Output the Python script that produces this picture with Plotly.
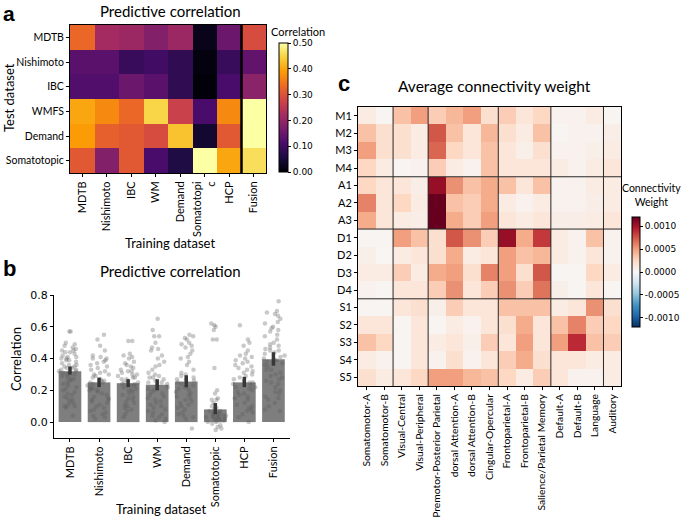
import plotly.graph_objects as go

W, H = 683, 517

# ---------------- data: panel a ----------------
train_labels_a = ["MDTB", "Nishimoto", "IBC", "WM", "Demand", "Somatotopi<br>c", "HCP", "Fusion"]
test_labels_a = ["MDTB", "Nishimoto", "IBC", "WMFS", "Demand", "Somatotopic"]
pred_corr = [
    [0.33, 0.22, 0.21, 0.18, 0.21, 0.02, 0.15, 0.29],
    [0.13, 0.13, 0.09, 0.10, 0.08, 0.01, 0.09, 0.14],
    [0.12, 0.12, 0.15, 0.13, 0.08, 0.005, 0.11, 0.19],
    [0.40, 0.37, 0.33, 0.45, 0.27, 0.11, 0.37, 0.52],
    [0.39, 0.32, 0.31, 0.29, 0.43, 0.04, 0.31, 0.52],
    [0.31, 0.18, 0.31, 0.11, 0.06, 0.52, 0.40, 0.46],
]
corr_ticks = [0.0, 0.1, 0.2, 0.3, 0.4, 0.5]

# ---------------- data: panel b ----------------
train_labels_b = ["MDTB", "Nishimoto", "IBC", "WM", "Demand", "Somatotopic", "HCP", "Fusion"]
bar_means = [0.32, 0.25, 0.245, 0.235, 0.255, 0.08, 0.25, 0.395]
ci_low = [0.30, 0.22, 0.22, 0.20, 0.22, 0.05, 0.22, 0.355]
ci_high = [0.35, 0.28, 0.27, 0.27, 0.295, 0.12, 0.285, 0.44]
pts_mdtb = [0.57, 0.57, 0.50, 0.49, 0.48, 0.47, 0.46, 0.45, 0.45, 0.44, 0.43, 0.42, 0.41, 0.40, 0.40, 0.39,
            0.39, 0.38, 0.37, 0.36, 0.35, 0.35, 0.34, 0.34, 0.33, 0.33, 0.32, 0.32, 0.31, 0.31, 0.30, 0.30,
            0.29, 0.28, 0.27, 0.27, 0.26, 0.25, 0.24, 0.23, 0.22, 0.21, 0.20, 0.19, 0.18, 0.17, 0.16, 0.15,
            0.14, 0.13, 0.12, 0.11, 0.10, 0.10, 0.09, 0.04, 0.36, 0.41, 0.44, 0.30]
pts_nishimoto = [0.55, 0.52, 0.48, 0.45, 0.42, 0.41, 0.40, 0.40, 0.39, 0.38, 0.37, 0.36, 0.35, 0.34, 0.33,
                 0.32, 0.31, 0.30, 0.29, 0.28, 0.27, 0.26, 0.25, 0.25, 0.24, 0.23, 0.22, 0.21, 0.21, 0.20,
                 0.19, 0.18, 0.17, 0.16, 0.15, 0.14, 0.14, 0.13, 0.12, 0.11, 0.10, 0.09, 0.08, 0.07, 0.06,
                 0.05, 0.04, 0.03, 0.02, 0.30, 0.26, 0.20]
pts_ibc = [0.51, 0.51, 0.43, 0.42, 0.41, 0.40, 0.38, 0.37, 0.36, 0.35, 0.34, 0.33, 0.32, 0.31, 0.30, 0.30,
           0.29, 0.28, 0.28, 0.27, 0.26, 0.25, 0.25, 0.24, 0.24, 0.23, 0.22, 0.21, 0.20, 0.20, 0.19, 0.18,
           0.17, 0.16, 0.15, 0.14, 0.13, 0.12, 0.11, 0.10, 0.09, 0.08, 0.07, 0.05, 0.03, 0.27, 0.23, 0.32]
pts_wm = [0.65, 0.58, 0.54, 0.54, 0.50, 0.47, 0.46, 0.45, 0.42, 0.40, 0.38, 0.36, 0.35, 0.33, 0.31, 0.30,
          0.29, 0.28, 0.27, 0.26, 0.25, 0.24, 0.23, 0.22, 0.21, 0.20, 0.19, 0.18, 0.17, 0.16, 0.15, 0.14,
          0.13, 0.12, 0.11, 0.10, 0.09, 0.08, 0.07, 0.06, 0.05, 0.04, 0.03, 0.02, 0.01, 0.00, 0.28, 0.25]
pts_demand = [0.55, 0.54, 0.53, 0.52, 0.50, 0.49, 0.48, 0.47, 0.45, 0.43, 0.41, 0.40, 0.38, 0.36, 0.33,
              0.31, 0.30, 0.29, 0.28, 0.27, 0.26, 0.25, 0.24, 0.23, 0.22, 0.21, 0.20, 0.19, 0.18, 0.17,
              0.16, 0.15, 0.14, 0.13, 0.12, 0.11, 0.10, 0.09, 0.08, 0.06, 0.05, 0.04, 0.03, 0.02, -0.04,
              0.27, 0.22]
pts_somatotopic = [0.62, 0.61, 0.60, 0.58, 0.52, 0.52, 0.34, 0.20, 0.18, 0.15, 0.14, 0.14, 0.12, 0.10, 0.09,
                   0.08, 0.07, 0.07, 0.06, 0.06, 0.05, 0.05, 0.04, 0.04, 0.04, 0.03, 0.03, 0.03, 0.02, 0.02,
                   0.02, 0.01, 0.01, 0.00, 0.00, -0.01, -0.02, -0.03, -0.04, -0.05, 0.05, 0.03, 0.01]
pts_hcp = [0.61, 0.52, 0.50, 0.48, 0.45, 0.43, 0.42, 0.41, 0.40, 0.39, 0.38, 0.37, 0.36, 0.35, 0.34, 0.33,
           0.32, 0.31, 0.30, 0.29, 0.28, 0.27, 0.26, 0.25, 0.24, 0.23, 0.22, 0.21, 0.20, 0.19, 0.18, 0.17,
           0.16, 0.15, 0.14, 0.12, 0.11, 0.10, 0.09, 0.08, 0.07, 0.06, 0.05, 0.03, 0.00, 0.25, 0.22]
pts_fusion = [0.76, 0.70, 0.69, 0.68, 0.67, 0.65, 0.63, 0.62, 0.60, 0.59, 0.58, 0.57, 0.55, 0.54, 0.52,
              0.50, 0.49, 0.48, 0.47, 0.46, 0.45, 0.44, 0.43, 0.42, 0.41, 0.40, 0.39, 0.38, 0.37, 0.36,
              0.35, 0.33, 0.31, 0.30, 0.29, 0.28, 0.27, 0.26, 0.25, 0.24, 0.22, 0.20, 0.19, 0.18, 0.16,
              0.15, 0.14, 0.12, 0.10, 0.08, 0.07, 0.45, 0.39, 0.33]
points_b = [pts_mdtb, pts_nishimoto, pts_ibc, pts_wm, pts_demand, pts_somatotopic, pts_hcp, pts_fusion]
bar_ticks = [0.0, 0.2, 0.4, 0.6, 0.8]

# ---------------- data: panel c ----------------
networks = ["Somatomotor-A", "Somatomotor-B", "Visual-Central", "Visual-Peripheral",
            "Premotor-Posterior Parietal", "dorsal Attention-A", "dorsal Attention-B",
            "Cingular-Opercular", "Frontoparietal-A", "Frontoparietal-B",
            "Salience/Parietal Memory", "Default-A", "Default-B", "Language", "Auditory"]
regions = ["M1", "M2", "M3", "M4", "A1", "A2", "A3", "D1", "D2", "D3", "D4", "S1", "S2", "S3", "S4", "S5"]
# weights in units of 1e-4
conn_weight_e4 = [
    [1.0, 0.3, 3.5, 5.0, 3.0, 4.0, 5.0, 2.0, 3.0, 1.5, 2.5, 0.5, 0.5, 1.0, 0.3],
    [3.5, 2.0, 2.0, 1.0, 7.5, 3.5, 1.5, 4.0, 2.0, 1.0, 3.5, 0.3, 0.5, 0.5, 0.8],
    [5.0, 2.0, 2.0, 1.0, 7.0, 2.5, 1.5, 3.5, 1.5, 0.7, 2.0, 0.5, 0.5, 0.7, 1.0],
    [2.5, 1.0, 0.3, 0.5, 3.0, 1.0, 0.5, 3.5, 1.5, 1.5, 1.5, 1.0, 0.5, 1.0, 1.5],
    [2.5, 1.5, 1.5, 0.8, 10.5, 5.5, 3.5, 4.5, 3.5, 1.5, 3.5, 0.5, 0.5, 1.0, 1.0],
    [6.0, 1.5, 2.5, 1.0, 13.0, 3.5, 3.0, 4.5, 1.0, 0.5, 1.0, 0.5, 0.5, 0.8, 1.0],
    [4.5, 1.5, 1.0, 0.8, 13.0, 4.5, 3.0, 5.0, 1.5, 1.0, 1.5, 0.8, 0.8, 1.0, 1.5],
    [0.3, 0.3, 5.0, 3.5, 2.0, 7.5, 5.5, 3.0, 10.5, 4.5, 8.5, 1.0, 0.5, 3.5, 0.5],
    [0.7, 0.2, 1.0, 1.5, 2.0, 4.5, 1.0, 1.5, 5.0, 3.5, 4.0, 1.0, 0.5, 1.5, 0.5],
    [1.0, 1.0, 3.0, 1.0, 4.5, 5.0, 2.0, 6.0, 5.0, 2.0, 7.5, 0.3, 0.3, 2.5, 1.0],
    [0.5, 0.3, 1.5, 1.5, 3.0, 5.5, 1.5, 3.0, 5.5, 3.0, 6.5, 0.7, 0.3, 1.5, 0.3],
    [0.3, 0.3, 1.5, 2.0, 0.7, 3.0, 1.5, 1.5, 3.5, 3.5, 3.5, 1.0, 1.5, 5.5, 2.0],
    [1.5, 1.5, 0.3, 1.5, 0.3, 1.0, 0.5, 1.5, 2.0, 4.5, 1.5, 3.5, 6.0, 3.0, 2.5],
    [3.5, 2.5, 0.3, 1.5, 1.0, 1.5, 0.7, 3.0, 1.5, 5.0, 1.5, 5.0, 9.0, 3.5, 3.0],
    [1.0, 0.5, 0.3, 1.5, 0.5, 2.0, 0.5, 1.5, 3.0, 4.5, 2.0, 1.5, 1.5, 1.0, 1.0],
    [2.0, 1.0, 1.5, 2.5, 5.0, 5.0, 4.0, 3.5, 2.5, 1.0, 3.0, 1.5, 0.5, 0.5, 1.0],
]
conn_weight = [[v * 1e-4 for v in row] for row in conn_weight_e4]
weight_ticks = [0.0010, 0.0005, 0.0, -0.0005, -0.0010]
weight_tick_text = ["0.0010", "0.0005", "0.0000", "-0.0005", "-0.0010"]
col_group_breaks = [1.5, 3.5, 7.5, 10.5, 13.5]
row_group_breaks = [3.5, 6.5, 10.5]

# ---------------- helpers ----------------
def dx(px0, px1):
    return [px0 / W, px1 / W]

def dy(top, bottom):
    return [(H - bottom) / H, (H - top) / H]

LBL = "Lato"
NUM = "DejaVu Sans"

rdbu_r = [
    [0.0, "rgb(5,48,97)"], [0.1, "rgb(33,102,172)"], [0.2, "rgb(67,147,195)"],
    [0.3, "rgb(146,197,222)"], [0.4, "rgb(209,229,240)"], [0.5, "rgb(247,247,247)"],
    [0.6, "rgb(253,219,199)"], [0.7, "rgb(244,165,130)"], [0.8, "rgb(214,96,77)"],
    [0.9, "rgb(178,24,43)"], [1.0, "rgb(103,0,31)"],
]

fig = go.Figure()

# ---- panel a heatmap ----
fig.add_trace(go.Heatmap(
    z=pred_corr, x=list(range(len(train_labels_a))), y=list(range(len(test_labels_a))),
    colorscale="Inferno", zmin=0, zmax=0.5, xaxis="x", yaxis="y",
    colorbar=dict(x=279 / W, xanchor="left", y=(H - 107.5) / H, yanchor="middle",
                  len=129, lenmode="pixels", thickness=9, xpad=0, ypad=0,
                  outlinewidth=1, outlinecolor="black",
                  tickvals=corr_ticks, ticktext=["%.2f" % v for v in corr_ticks],
                  ticks="outside", ticklen=3, tickcolor="black",
                  tickfont=dict(family=NUM, size=9, color="black")),
))

# ---- panel b bars, points, error bars ----
fig.add_trace(go.Bar(
    x=train_labels_b, y=bar_means, xaxis="x2", yaxis="y2",
    marker=dict(color="rgb(126,126,126)", line=dict(width=0)), width=0.78,
))
box_x, box_y = [], []
for lab, vals in zip(train_labels_b, points_b):
    box_x += [lab] * len(vals)
    box_y += vals
fig.add_trace(go.Box(
    x=box_x, y=box_y, xaxis="x2", yaxis="y2", boxpoints="all", jitter=1, pointpos=0,
    width=0.8, fillcolor="rgba(0,0,0,0)", line=dict(color="rgba(0,0,0,0)", width=0),
    marker=dict(color="rgba(90,90,90,0.33)", size=4.5, line=dict(width=0)),
    whiskerwidth=0,
))
fig.add_trace(go.Scatter(
    x=train_labels_b, y=bar_means, xaxis="x2", yaxis="y2", mode="markers",
    marker=dict(size=0.1, color="rgba(0,0,0,0)"),
    error_y=dict(type="data", symmetric=False,
                 array=[h - m for h, m in zip(ci_high, bar_means)],
                 arrayminus=[m - l for m, l in zip(bar_means, ci_low)],
                 color="rgb(55,55,55)", thickness=3.5, width=0),
))

# ---- panel c heatmap ----
fig.add_trace(go.Heatmap(
    z=conn_weight, x=list(range(len(networks))), y=list(range(len(regions))),
    colorscale=rdbu_r, zmin=-0.0012, zmax=0.0012, xaxis="x3", yaxis="y3",
    colorbar=dict(x=632 / W, xanchor="left", y=(H - 272) / H, yanchor="middle",
                  len=110, lenmode="pixels", thickness=8, xpad=0, ypad=0,
                  outlinewidth=1, outlinecolor="black",
                  tickvals=weight_ticks, ticktext=weight_tick_text,
                  ticks="outside", ticklen=3, tickcolor="black",
                  tickfont=dict(family=NUM, size=9, color="black")),
))

shapes = []
# thick separator in panel a
shapes.append(dict(type="line", xref="x", yref="y domain", x0=6.5, x1=6.5, y0=0, y1=1,
                   line=dict(color="black", width=2.5)))
for b in col_group_breaks:
    shapes.append(dict(type="line", xref="x3", yref="y3 domain", x0=b, x1=b, y0=0, y1=1,
                       line=dict(color="rgb(40,40,40)", width=1)))
for b in row_group_breaks:
    shapes.append(dict(type="line", xref="x3 domain", yref="y3", x0=0, x1=1, y0=b, y1=b,
                       line=dict(color="rgb(40,40,40)", width=1)))

tickfont_lbl = dict(family=LBL, size=11, color="black")
tickfont_ay = dict(family=LBL, size=10.5, color="black")
tickfont_c = dict(family=LBL, size=10.3, color="black")
frame = dict(showline=True, linecolor="black", linewidth=1, mirror=True, showgrid=False,
             zeroline=False, ticks="outside", ticklen=3, tickcolor="black", automargin=False)

annotations = [
    dict(text="<b>a</b>", x=1 / W, y=1.0, xanchor="left", yanchor="top",
         font=dict(family="Liberation Sans", size=21, color="black")),
    dict(text="<b>b</b>", x=1 / W, y=(H - 268) / H, xanchor="left", yanchor="middle",
         font=dict(family="Liberation Sans", size=22, color="black")),
    dict(text="<b>c</b>", x=336 / W, y=(H - 84) / H, xanchor="left", yanchor="middle",
         font=dict(family="Liberation Sans", size=22, color="black")),
    dict(text="Predictive correlation", x=170 / W, y=(H - 11) / H, xanchor="center", yanchor="middle",
         font=dict(family=LBL, size=15, color="black")),
    dict(text="Predictive correlation", x=170 / W, y=(H - 271) / H, xanchor="center", yanchor="middle",
         font=dict(family=LBL, size=15, color="black")),
    dict(text="Average connectivity weight", x=494 / W, y=(H - 86) / H, xanchor="center", yanchor="middle",
         font=dict(family=LBL, size=15.5, color="black")),
    dict(text="Test dataset", x=9 / W, y=(H - 98) / H, textangle=-90, xanchor="center", yanchor="middle",
         font=dict(family=LBL, size=13, color="black")),
    dict(text="Training dataset", x=170 / W, y=(H - 243) / H, xanchor="center", yanchor="middle",
         font=dict(family=LBL, size=13, color="black")),
    dict(text="Correlation", x=16 / W, y=(H - 359) / H, textangle=-90, xanchor="center", yanchor="middle",
         font=dict(family=LBL, size=13, color="black")),
    dict(text="Training dataset", x=161 / W, y=(H - 509) / H, xanchor="center", yanchor="middle",
         font=dict(family=LBL, size=13, color="black")),
    dict(text="Correlation", x=298 / W, y=(H - 31) / H, xanchor="center", yanchor="middle",
         font=dict(family=LBL, size=11, color="black")),
    dict(text="Connectivity<br>Weight", x=651 / W, y=(H - 195) / H, xanchor="center", yanchor="middle",
         font=dict(family=LBL, size=10.5, color="black")),
]
for a in annotations:
    a.update(xref="paper", yref="paper", showarrow=False)

fig.update_layout(
    width=W, height=H, margin=dict(l=0, r=0, t=0, b=0),
    paper_bgcolor="white", plot_bgcolor="white", template="none",
    showlegend=False, bargap=0.2,
    shapes=shapes, annotations=annotations,
    xaxis=dict(domain=dx(70, 266), range=[-0.5, 7.5], tickvals=list(range(len(train_labels_a))),
               ticktext=train_labels_a, tickangle=-90, tickfont=tickfont_lbl, anchor="y", **frame),
    yaxis=dict(domain=dy(25, 173), range=[5.5, -0.5], tickvals=list(range(len(test_labels_a))),
               ticktext=test_labels_a, tickfont=tickfont_ay, anchor="x", **frame),
    xaxis2=dict(domain=dx(54, 290), range=[-0.55, 7.57], type="category", tickangle=-90,
                tickfont=tickfont_lbl, anchor="y2", showline=True, linecolor="black", linewidth=1,
                showgrid=False, zeroline=False, ticks="outside", ticklen=3, tickcolor="black",
                automargin=False),
    yaxis2=dict(domain=dy(295, 438), range=[-0.1, 0.8], tickvals=bar_ticks,
                ticktext=["%.1f" % v for v in bar_ticks], tickfont=dict(family=NUM, size=11, color="black"),
                anchor="x2", showline=True, linecolor="black", linewidth=1, showgrid=False,
                zeroline=False, ticks="outside", ticklen=3, tickcolor="black", automargin=False),
    xaxis3=dict(domain=dx(358, 621), range=[-0.5, len(networks) - 0.5], tickvals=list(range(len(networks))),
                ticktext=networks, tickangle=-90, tickfont=tickfont_c, anchor="y3", **frame),
    yaxis3=dict(domain=dy(107, 386), range=[len(regions) - 0.5, -0.5], tickvals=list(range(len(regions))),
                ticktext=regions, tickfont=tickfont_lbl, anchor="x3", **frame),
)

fig.write_html("out.html", config={"displayModeBar": False},
               post_script="document.body.style.margin='0';document.body.style.overflow='hidden';")
